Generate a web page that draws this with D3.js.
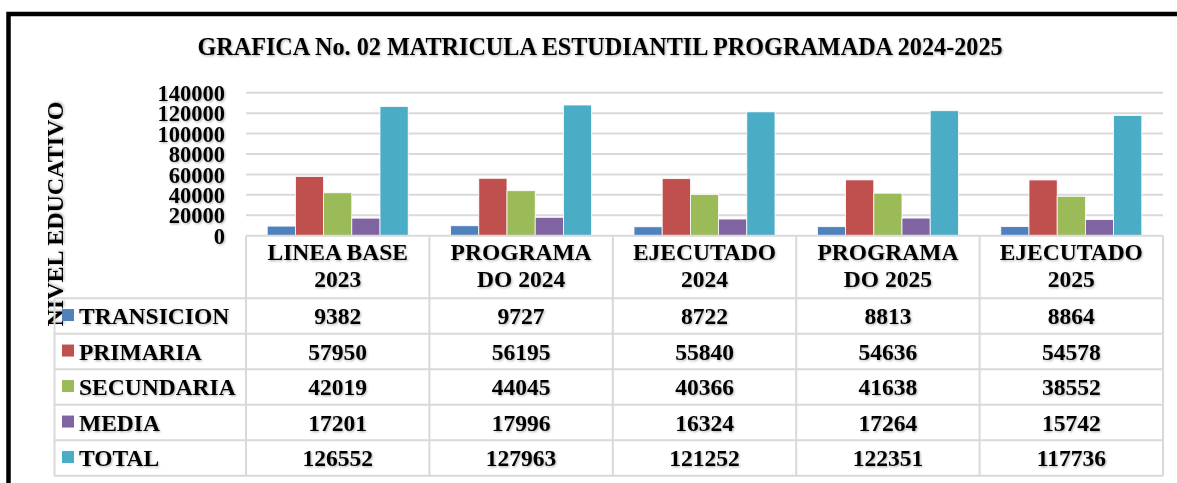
<!DOCTYPE html>
<html>
<head>
<meta charset="utf-8">
<script src="https://cdn.jsdelivr.net/npm/d3@7"></script>
<style>
  body { margin: 0; background: #fff; }
</style>
</head>
<body>
<div id="chart"></div>
<script>
var categories = ["LINEA BASE 2023", "PROGRAMADO 2024", "EJECUTADO 2024", "PROGRAMADO 2025", "EJECUTADO 2025"];
var headerLines = [["LINEA BASE", "2023"], ["PROGRAMA", "DO 2024"], ["EJECUTADO", "2024"], ["PROGRAMA", "DO 2025"], ["EJECUTADO", "2025"]];
var seriesNames = ["TRANSICION", "PRIMARIA", "SECUNDARIA", "MEDIA", "TOTAL"];
var transicion = [9382, 9727, 8722, 8813, 8864];
var primaria = [57950, 56195, 55840, 54636, 54578];
var secundaria = [42019, 44045, 40366, 41638, 38552];
var media = [17201, 17996, 16324, 17264, 15742];
var total = [126552, 127963, 121252, 122351, 117736];
var yTicks = [0, 20000, 40000, 60000, 80000, 100000, 120000, 140000];
var colors = ["#4F81BD", "#C0504D", "#9BBB59", "#8064A2", "#4BACC6"];

var series = [transicion, primaria, secundaria, media, total];

var W = 1177, H = 483;
var plotLeft = 246, plotRight = 1163;
var plotTop = 92.7, plotBottom = 235.7;
var headerBottom = 298.3, rowH = 35.5;
var legendLeft = 54.5;
var fontFam = "'Liberation Serif'";

var svg = d3.select("#chart").append("svg")
    .attr("width", W).attr("height", H);

// light shadow behind the text, like the original
var f = svg.append("defs").append("filter").attr("id", "sh")
    .attr("x", "-10%").attr("y", "-30%").attr("width", "120%").attr("height", "160%");
f.append("feDropShadow").attr("dx", 1).attr("dy", 1.2).attr("stdDeviation", 0.8)
    .attr("flood-color", "#000").attr("flood-opacity", 0.3);

function label(sel, size) {
    return sel.style("font-family", fontFam)
        .style("font-weight", "bold")
        .style("font-size", size + "px")
        .style("fill", "#000")
        .attr("filter", "url(#sh)");
}

// outer border
svg.append("rect")
    .attr("x", 8.5).attr("y", 14)
    .attr("width", W + 20).attr("height", H + 20)
    .attr("fill", "none").attr("stroke", "#000").attr("stroke-width", 4.5);

// title
label(svg.append("text"), 24.2)
    .attr("x", 600).attr("y", 55)
    .attr("text-anchor", "middle")
    .text("GRAFICA No. 02 MATRICULA ESTUDIANTIL PROGRAMADA 2024-2025");

//scales
var x0 = d3.scaleBand().domain(categories).range([plotLeft, plotRight]).padding(0);
var groupW = 141;
var x1 = d3.scaleBand().domain(seriesNames).range([0, groupW]).padding(0);
var y = d3.scaleLinear().domain([0, 140000]).range([plotBottom, plotTop]);

//gridlines
svg.append("g").selectAll("line")
    .data(yTicks.filter(function (d) { return d > 0; }))
    .enter().append("line")
    .attr("x1", plotLeft).attr("x2", plotRight)
    .attr("y1", function (d) { return y(d); })
    .attr("y2", function (d) { return y(d); })
    .attr("stroke", "#d9d9d9").attr("stroke-width", 2);

//y axis
var yAxis = d3.axisLeft(y).tickValues(yTicks).tickSize(0).tickPadding(0).tickFormat(d3.format("d"));
var yg = svg.append("g")
    .attr("transform", "translate(225,0)")
    .call(yAxis);
yg.select(".domain").remove();
label(yg.selectAll("text"), 22.5)
    .attr("x", 0)
    .attr("dy", "0.34em");

//y title
label(svg.append("text"), 23.5)
    .attr("transform", "translate(63,214) rotate(-90)")
    .attr("text-anchor", "middle")
    .attr("textLength", 225)
    .attr("lengthAdjust", "spacingAndGlyphs")
    .text("NIVEL EDUCATIVO");

//bars
var groupOffset = (x0.bandwidth() - groupW) / 2;
var barData = [];
categories.forEach(function (c, i) {
    seriesNames.forEach(function (s, j) {
        barData.push({ cat: c, name: s, value: series[j][i], color: colors[j] });
    });
});
svg.append("g").selectAll("rect")
    .data(barData)
    .enter().append("rect")
    .attr("x", function (d) { return x0(d.cat) + groupOffset + x1(d.name); })
    .attr("width", x1.bandwidth())
    .attr("y", function (d) { return y(d.value); })
    .attr("height", function (d) { return plotBottom - y(d.value); })
    .attr("fill", function (d) { return d.color; })
    .attr("stroke", "#fff").attr("stroke-width", 0.8);

//table
var grid = "#d9d9d9";
var tableBottom = headerBottom + rowH * seriesNames.length;
var tg = svg.append("g");
// horizontal lines
tg.append("line").attr("x1", plotLeft).attr("x2", plotRight)
    .attr("y1", plotBottom).attr("y2", plotBottom)
    .attr("stroke", grid).attr("stroke-width", 2);
d3.range(seriesNames.length + 1).forEach(function (r) {
    var yy = headerBottom + r * rowH;
    tg.append("line").attr("x1", legendLeft).attr("x2", plotRight)
        .attr("y1", yy).attr("y2", yy)
        .attr("stroke", grid).attr("stroke-width", 2);
});
// vertical lines
tg.append("line").attr("x1", legendLeft).attr("x2", legendLeft)
    .attr("y1", headerBottom).attr("y2", tableBottom)
    .attr("stroke", grid).attr("stroke-width", 2);
categories.forEach(function (c) {
    tg.append("line").attr("x1", x0(c)).attr("x2", x0(c))
        .attr("y1", plotBottom).attr("y2", tableBottom)
        .attr("stroke", grid).attr("stroke-width", 2);
});
tg.append("line").attr("x1", plotRight).attr("x2", plotRight)
    .attr("y1", plotBottom).attr("y2", tableBottom)
    .attr("stroke", grid).attr("stroke-width", 2);

// header text
categories.forEach(function (c, i) {
    var cx = x0(c) + x0.bandwidth() / 2;
    headerLines[i].forEach(function (t, k) {
        label(tg.append("text"), 23.5)
            .attr("x", cx).attr("y", 260 + k * 26.7)
            .attr("text-anchor", "middle")
            .text(t);
    });
});

// legend + values
seriesNames.forEach(function (s, j) {
    var cy = headerBottom + j * rowH + rowH / 2;
    tg.append("rect")
        .attr("x", 62).attr("y", cy - 7).attr("width", 12).attr("height", 12)
        .attr("fill", colors[j]);
    label(tg.append("text"), 23.5)
        .attr("x", 79).attr("y", cy + 8)
        .text(s);
    categories.forEach(function (c, i) {
        label(tg.append("text"), 23.5)
            .attr("x", x0(c) + x0.bandwidth() / 2).attr("y", cy + 8)
            .attr("text-anchor", "middle")
            .text(series[j][i]);
    });
});
</script>
</body>
</html>
